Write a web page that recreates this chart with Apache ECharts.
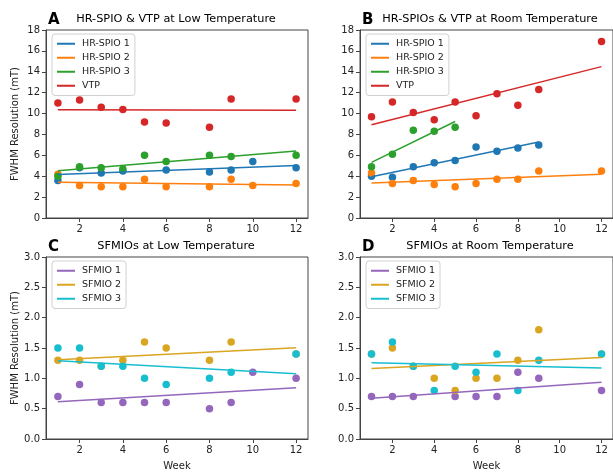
<!DOCTYPE html>
<html>
<head>
<meta charset="utf-8">
<script src="https://cdn.jsdelivr.net/npm/echarts@6/dist/echarts.min.js"></script>
<style>
  html, body { margin: 0; padding: 0; background: #fff; }
  #chart { width: 613px; height: 472px; }
</style>
</head>
<body>
<div id="chart"></div>
<script>
// panel A: low temperature, HR-SPIO + VTP
const weeksA1 = [1, 2, 3, 4, 6, 8, 9, 10, 12]
const spio1Low = [3.6, 4.8, 4.3, 4.5, 4.6, 4.4, 4.6, 5.4, 4.8]
const weeksA2 = [1, 2, 3, 4, 5, 6, 8, 9, 10, 12]
const spio2Low = [4.2, 3.1, 3.0, 3.0, 3.7, 3.0, 3.0, 3.7, 3.1, 3.3]
const weeksA3 = [1, 2, 3, 4, 5, 6, 8, 9, 12]
const spio3Low = [4.0, 4.9, 4.8, 4.7, 6.0, 5.4, 6.0, 5.9, 6.0]
const weeksA4 = [1, 2, 3, 4, 5, 6, 8, 9, 12]
const vtpLow = [11.0, 11.3, 10.6, 10.4, 9.2, 9.1, 8.7, 11.4, 11.4]

// panel B: room temperature
const weeksB1 = [1, 2, 3, 4, 5, 6, 7, 8, 9]
const spio1Room = [4.0, 3.9, 4.9, 5.3, 5.5, 6.8, 6.4, 6.7, 7.0]
const weeksB2 = [1, 2, 3, 4, 5, 6, 7, 8, 9, 12]
const spio2Room = [4.3, 3.3, 3.6, 3.2, 3.0, 3.3, 3.7, 3.7, 4.5, 4.5]
const weeksB3 = [1, 2, 3, 4, 5]
const spio3Room = [4.9, 6.1, 8.4, 8.3, 8.7]
const weeksB4 = [1, 2, 3, 4, 5, 6, 7, 8, 9, 12]
const vtpRoom = [9.7, 11.1, 10.1, 9.4, 11.1, 9.8, 11.9, 10.8, 12.3, 16.9]

// panel C: SFMIO low temperature
const weeksC1 = [1, 2, 3, 4, 5, 6, 8, 9, 10, 12]
const sfmio1Low = [0.7, 0.9, 0.6, 0.6, 0.6, 0.6, 0.5, 0.6, 1.1, 1.0]
const weeksC2 = [1, 2, 3, 4, 5, 6, 8, 9, 12]
const sfmio2Low = [1.3, 1.3, 1.2, 1.3, 1.6, 1.5, 1.3, 1.6, 1.4]
const weeksC3 = [1, 2, 3, 4, 5, 6, 8, 9, 12]
const sfmio3Low = [1.5, 1.5, 1.2, 1.2, 1.0, 0.9, 1.0, 1.1, 1.4]

// panel D: SFMIO room temperature
const weeksD1 = [1, 2, 3, 5, 6, 7, 8, 9, 12]
const sfmio1Room = [0.7, 0.7, 0.7, 0.7, 0.7, 0.7, 1.1, 1.0, 0.8]
const weeksD2 = [1, 2, 3, 4, 5, 6, 7, 8, 9, 12]
const sfmio2Room = [1.4, 1.5, 1.2, 1.0, 0.8, 1.0, 1.0, 1.3, 1.8, 1.4]
const weeksD3 = [1, 2, 3, 4, 5, 6, 7, 8, 9, 12]
const sfmio3Room = [1.4, 1.6, 1.2, 0.8, 1.2, 1.1, 1.4, 0.8, 1.3, 1.4]

const weekTicks = [2, 4, 6, 8, 10, 12]
const spioNames = ['HR-SPIO 1', 'HR-SPIO 2', 'HR-SPIO 3', 'VTP']
const sfmioNames = ['SFMIO 1', 'SFMIO 2', 'SFMIO 3']

const FONT = 'DejaVu Sans'
const INK = '#222'
const FRAME = '#444'

// least squares line over the series' own week range
function fitLine (xs, ys) {
    const n = xs.length
    const mx = xs.reduce((a, b) => a + b, 0) / n
    const my = ys.reduce((a, b) => a + b, 0) / n
    let sxy = 0, sxx = 0
    for (let i = 0; i < n; i++) {
        sxy += (xs[i] - mx) * (ys[i] - my)
        sxx += (xs[i] - mx) * (xs[i] - mx)
    }
    const k = sxy / sxx
    const x0 = Math.min(...xs), x1 = Math.max(...xs)
    return [[x0, my + k * (x0 - mx)], [x1, my + k * (x1 - mx)]]
}

const grids = [
    { left: 46, top: 30, width: 262, height: 188 },
    { left: 360, top: 30, width: 262, height: 188 },
    { left: 46, top: 257, width: 262, height: 188 },
    { left: 360, top: 257, width: 262, height: 188 }
]

function xAxisFor (i) {
    return {
        gridIndex: i,
        type: 'value',
        min: 0.45,
        max: 12.55,
        name: i >= 2 ? 'Week' : '',
        nameLocation: 'middle',
        nameGap: 22,
        nameTextStyle: { fontFamily: FONT, fontSize: 10, color: INK },
        splitLine: { show: false },
        axisLine: { show: true, onZero: false, lineStyle: { color: FRAME, width: 1 } },
        axisTick: { show: true, length: 4, customValues: weekTicks, lineStyle: { color: FRAME } },
        axisLabel: { customValues: weekTicks, fontFamily: FONT, fontSize: 10, color: INK, margin: 6 }
    }
}

function yAxisFor (i) {
    const top = i < 2
    return {
        gridIndex: i,
        type: 'value',
        min: 0,
        max: top ? 18 : 3,
        interval: top ? 2 : 0.5,
        name: i % 2 === 0 ? 'FWHM Resolution (mT)' : '',
        nameLocation: 'middle',
        nameGap: 26,
        nameTextStyle: { fontFamily: FONT, fontSize: 10, color: INK },
        splitLine: { show: false },
        axisLine: { show: true, lineStyle: { color: FRAME, width: 1 } },
        axisTick: { show: true, length: 4, lineStyle: { color: FRAME } },
        axisLabel: {
            fontFamily: FONT, fontSize: 10, color: INK, margin: 6,
            formatter: v => top ? String(v) : v.toFixed(1)
        }
    }
}

const series = []
function addGroup (grid, name, color, xs, ys) {
    series.push({
        name: name + ' pts ' + grid,
        type: 'scatter',
        xAxisIndex: grid,
        yAxisIndex: grid,
        symbolSize: 7.5,
        itemStyle: { color: color, opacity: 1 },
        data: xs.map((x, i) => [x, ys[i]])
    })
    series.push({
        name: name,
        type: 'line',
        xAxisIndex: grid,
        yAxisIndex: grid,
        showSymbol: false,
        symbol: 'none',
        color: color,
        lineStyle: { color: color, width: 1.5 },
        data: fitLine(xs, ys)
    })
}

const blue = '#1f77b4', orange = '#ff7f0e', green = '#2ca02c', red = '#d62728'
const purple = '#9467bd', gold = '#daa520', cyan = '#17becf'

addGroup(0, 'HR-SPIO 1', blue, weeksA1, spio1Low)
addGroup(0, 'HR-SPIO 2', orange, weeksA2, spio2Low)
addGroup(0, 'HR-SPIO 3', green, weeksA3, spio3Low)
addGroup(0, 'VTP', red, weeksA4, vtpLow)

addGroup(1, 'HR-SPIO 1', blue, weeksB1, spio1Room)
addGroup(1, 'HR-SPIO 2', orange, weeksB2, spio2Room)
addGroup(1, 'HR-SPIO 3', green, weeksB3, spio3Room)
addGroup(1, 'VTP', red, weeksB4, vtpRoom)

addGroup(2, 'SFMIO 1', purple, weeksC1, sfmio1Low)
addGroup(2, 'SFMIO 2', gold, weeksC2, sfmio2Low)
addGroup(2, 'SFMIO 3', cyan, weeksC3, sfmio3Low)

addGroup(3, 'SFMIO 1', purple, weeksD1, sfmio1Room)
addGroup(3, 'SFMIO 2', gold, weeksD2, sfmio2Room)
addGroup(3, 'SFMIO 3', cyan, weeksD3, sfmio3Room)

function legendAt (left, top, names) {
    return {
        data: names,
        orient: 'vertical',
        left: left,
        top: top,
        icon: 'rect',
        itemWidth: 18,
        itemHeight: 2,
        itemGap: 2.5,
        padding: [4, 5, 4, 5],
        backgroundColor: 'rgba(255,255,255,0.85)',
        borderColor: '#d0d0d0',
        borderWidth: 1,
        borderRadius: 3,
        selectedMode: false,
        textStyle: { fontFamily: FONT, fontSize: 9.5, color: INK, lineHeight: 11.5, padding: [0, 0, 0, 2] }
    }
}

function panelTitles (letter, text, cx, top) {
    return [
        { text: letter, left: cx - 129, top: top, textStyle: { fontFamily: FONT, fontSize: 15, fontWeight: 'bold', color: '#000' } },
        { text: text, left: cx - 1, top: top + 1, textAlign: 'center', textStyle: { fontFamily: FONT, fontSize: 11.3, fontWeight: 'normal', color: '#000' } }
    ]
}

const chart = echarts.init(document.getElementById('chart'))
chart.setOption({
    animation: false,
    backgroundColor: '#fff',
    title: [].concat(
        panelTitles('A', 'HR-SPIO & VTP at Low Temperature', 177, 13),
        panelTitles('B', 'HR-SPIOs & VTP at Room Temperature', 491, 13),
        panelTitles('C', 'SFMIOs at Low Temperature', 177, 240),
        panelTitles('D', 'SFMIOs at Room Temperature', 491, 240)
    ).map(t => Object.assign({ padding: 0 }, t)),
    grid: grids.map(g => Object.assign({ show: true, borderColor: FRAME, borderWidth: 1, backgroundColor: 'transparent' }, g)),
    legend: [
        legendAt(52, 34, spioNames),
        legendAt(366, 34, spioNames),
        legendAt(52, 261, sfmioNames),
        legendAt(366, 261, sfmioNames)
    ],
    xAxis: [0, 1, 2, 3].map(xAxisFor),
    yAxis: [0, 1, 2, 3].map(yAxisFor),
    series: series
})
</script>
</body>
</html>
